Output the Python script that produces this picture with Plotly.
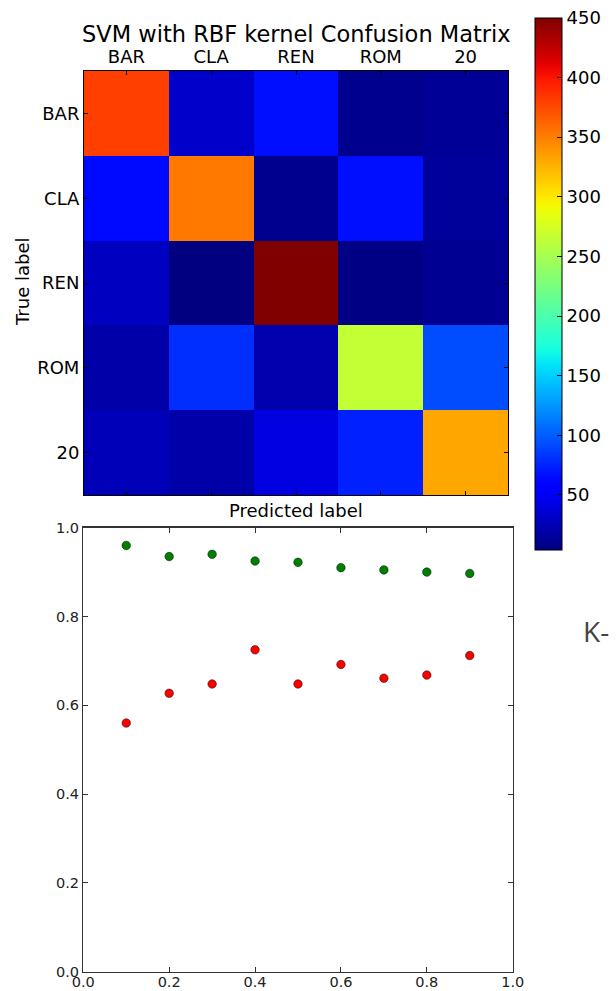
import numpy as np
import plotly.graph_objects as go

# ---------------- data ----------------
classes = ["BAR", "CLA", "REN", "ROM", "20"]
# rows = true label, columns = predicted label
cm_bar = [380, 33, 66, 10, 13]
cm_cla = [64, 353, 10, 66, 14]
cm_ren = [29, 4, 450, 6, 11]
cm_rom = [20, 80, 22, 265, 93]
cm_20 = [26, 20, 41, 74, 331]
cbar_ticks = [50, 100, 150, 200, 250, 300, 350, 400, 450]

test_sizes = [0.1, 0.2, 0.3, 0.4, 0.5, 0.6, 0.7, 0.8, 0.9]
green_scores = [0.960, 0.935, 0.940, 0.925, 0.922, 0.910, 0.905, 0.900, 0.897]
red_scores = [0.560, 0.627, 0.648, 0.725, 0.648, 0.692, 0.661, 0.668, 0.712]
scatter_ticks = [0.0, 0.2, 0.4, 0.6, 0.8, 1.0]

# ---------------- matplotlib "jet" colorscale ----------------
def jet_scale(n=61):
    ts = np.linspace(0, 1, n)
    r = np.interp(ts, [0, 0.35, 0.66, 0.89, 1], [0, 0, 1, 1, 0.5])
    g = np.interp(ts, [0, 0.125, 0.375, 0.64, 0.91, 1], [0, 0, 1, 1, 0, 0])
    b = np.interp(ts, [0, 0.11, 0.34, 0.65, 1], [0.5, 1, 1, 0, 0])
    return [[float(t), "rgb(%d,%d,%d)" % (round(255 * rr), round(255 * gg), round(255 * bb))]
            for t, rr, gg, bb in zip(ts, r, g, b)]

W, H = 616, 991
def px_x(v):
    return v / W
def px_y(v):
    return 1 - v / H

FONT = "DejaVu Sans"
z = [cm_bar, cm_cla, cm_ren, cm_rom, cm_20]
zflat = [v for row in z for v in row]

fig = go.Figure()

fig.add_trace(go.Heatmap(
    z=z, x=classes, y=classes,
    colorscale=jet_scale(), zmin=min(zflat), zmax=max(zflat),
    xaxis="x", yaxis="y",
    colorbar=dict(
        x=px_x(535), xanchor="left", xref="paper",
        y=px_y((17.7 + 550) / 2), yanchor="middle", yref="paper",
        len=(550 - 17.7) / H, lenmode="fraction",
        thickness=27, thicknessmode="pixels",
        outlinewidth=1, outlinecolor="black",
        xpad=0, ypad=0,
        tickvals=cbar_ticks, ticks="inside", ticklen=5, tickcolor="black",
        tickfont=dict(family=FONT, size=18, color="black"),
    ),
    hoverinfo="skip",
))

fig.add_trace(go.Scatter(
    x=test_sizes, y=green_scores, mode="markers",
    marker=dict(color="#008000", size=8.5, line=dict(color="black", width=0.5)),
    xaxis="x2", yaxis="y2", showlegend=False,
))
fig.add_trace(go.Scatter(
    x=test_sizes, y=red_scores, mode="markers",
    marker=dict(color="#ff0000", size=8.5, line=dict(color="black", width=0.5)),
    xaxis="x2", yaxis="y2", showlegend=False,
))

fig.update_layout(
    template="none",
    width=W, height=H,
    margin=dict(l=0, r=0, t=0, b=0, pad=0),
    paper_bgcolor="white", plot_bgcolor="white",
    showlegend=False,
    font=dict(family=FONT, color="black"),
    xaxis=dict(
        domain=[px_x(84), px_x(508)], anchor="y", type="category", side="top",
        automargin=False,
        showline=True, linecolor="black", linewidth=1, mirror="allticks",
        ticks="inside", ticklen=4, tickcolor="black",
        tickfont=dict(family=FONT, size=18, color="black"),
        showgrid=False, zeroline=False,
    ),
    yaxis=dict(
        domain=[px_y(495), px_y(71)], anchor="x", type="category",
        autorange="reversed", automargin=False,
        showline=True, linecolor="black", linewidth=1, mirror="allticks",
        ticks="inside", ticklen=4, tickcolor="black",
        tickfont=dict(family=FONT, size=18, color="black"),
        showgrid=False, zeroline=False,
    ),
    xaxis2=dict(
        domain=[px_x(83.3), px_x(512.7)], anchor="y2", range=[0, 1],
        automargin=False,
        tickvals=scatter_ticks, tickformat=".1f",
        showline=True, linecolor="#333333", linewidth=1.3, mirror="allticks",
        ticks="inside", ticklen=5, tickcolor="#333333",
        tickfont=dict(family=FONT, size=14.5, color="#222222"),
        ticklabelstandoff=-3,
        showgrid=False, zeroline=False,
    ),
    yaxis2=dict(
        domain=[px_y(971.7), px_y(527.7)], anchor="x2", range=[0, 1],
        automargin=False,
        tickvals=scatter_ticks, tickformat=".1f",
        showline=True, linecolor="#333333", linewidth=1.3, mirror="allticks",
        ticks="inside", ticklen=5, tickcolor="#333333",
        tickfont=dict(family=FONT, size=14.5, color="#222222"),
        showgrid=False, zeroline=False,
    ),
    annotations=[
        dict(text="SVM with RBF kernel Confusion Matrix", x=px_x(296), y=px_y(34),
             xref="paper", yref="paper", xanchor="center", yanchor="middle",
             showarrow=False, font=dict(family=FONT, size=22.5, color="black")),
        dict(text="Predicted label", x=px_x(296), y=px_y(511),
             xref="paper", yref="paper", xanchor="center", yanchor="middle",
             showarrow=False, font=dict(family=FONT, size=18, color="black")),
        dict(text="True label", x=px_x(22), y=px_y(282), textangle=-90,
             xref="paper", yref="paper", xanchor="center", yanchor="middle",
             showarrow=False, font=dict(family=FONT, size=18, color="black")),
        dict(text="K-", x=px_x(581), y=px_y(631),
             xref="paper", yref="paper", xanchor="left", yanchor="middle",
             showarrow=False, font=dict(family="Open Sans", size=28, color="#444444")),
    ],
)

fig.write_html(
    "out.html",
    config={"displayModeBar": False, "staticPlot": True},
    post_script="document.body.style.margin='0px';document.body.style.overflow='hidden';",
)
